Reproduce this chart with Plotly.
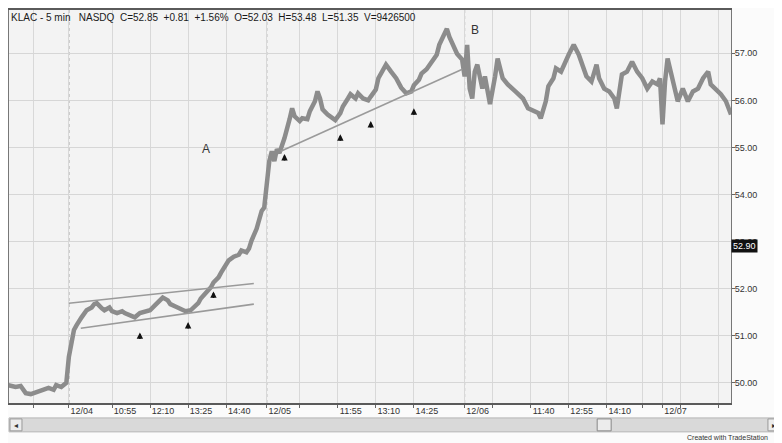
import plotly.graph_objects as go

# ---- data (5-minute bars; bar 78 = 12/04 09:30, 78 bars per session) ----
bars = [54, 57, 59, 61, 63, 66, 68, 70, 72, 73, 75, 77,
        78, 79, 80, 81, 82, 83, 85, 87, 88, 89, 91, 92, 94, 95, 97, 99, 100, 102, 104, 106, 108, 110,
        112, 114, 115, 117, 118, 120, 122, 124, 126, 127, 129, 130, 132, 134, 135, 137, 138, 140, 141,
        143, 145, 146, 148, 149, 150, 152, 153, 154, 155,
        156, 157, 158, 159, 160, 161, 163, 164, 165, 166, 167, 169, 170, 172, 173, 175, 176, 177, 178,
        180, 182, 183, 185, 186, 188, 189, 191, 192, 194, 196, 197, 199, 200, 202, 203, 205, 207, 209,
        211, 213, 214, 216, 217, 219, 221, 223, 224, 226, 227, 228, 230, 231, 233,
        234, 235, 236, 237, 238, 239, 241, 242, 244, 246, 247, 249, 251, 254, 257, 259, 261, 263, 264,
        266, 267, 269, 270, 272, 275, 277, 279, 281, 282, 284, 286, 287, 289, 291, 293, 294, 296, 298,
        300, 302, 304, 306, 308, 310, 311,
        312, 313, 314, 316, 318, 320, 322, 324, 326, 328, 330, 331, 333, 335, 337, 339]
prices = [49.95, 49.91, 49.93, 49.78, 49.76, 49.81, 49.85, 49.89, 49.85, 49.95, 49.91, 50.00,
          50.55, 50.91, 51.12, 51.22, 51.33, 51.39, 51.54, 51.60, 51.67, 51.69, 51.58, 51.54, 51.60,
          51.52, 51.48, 51.52, 51.48, 51.43, 51.39, 51.48, 51.52, 51.54,
          51.65, 51.75, 51.81, 51.75, 51.67, 51.62, 51.58, 51.52, 51.54, 51.60, 51.69, 51.79, 51.90,
          52.03, 52.13, 52.24, 52.34, 52.49, 52.60, 52.68, 52.72, 52.81, 52.77, 52.85, 53.02, 53.27,
          53.48, 53.65, 53.72,
          54.18, 54.71, 54.92, 54.71, 54.96, 54.88, 55.20, 55.45, 55.60, 55.83, 55.66, 55.56, 55.62,
          55.60, 55.77, 55.98, 56.19, 56.04, 55.81, 55.70, 55.60, 55.58, 55.73, 55.87, 56.04, 56.13,
          56.04, 56.15, 56.04, 56.00, 56.08, 56.23, 56.47, 56.66, 56.76, 56.61, 56.47, 56.27,
          56.15, 56.19, 56.32, 56.44, 56.57, 56.66, 56.82, 56.97, 57.18, 57.40, 57.52, 57.35, 57.14,
          56.99, 56.87,
          56.51, 57.18, 56.25, 56.04, 56.61, 56.76, 56.25, 56.51, 55.92, 56.51, 56.89, 56.47, 56.34,
          56.19, 56.04, 55.83, 55.77, 55.73, 55.62,
          55.98, 56.30, 56.47, 56.68, 56.61, 56.97, 57.18, 56.97, 56.68, 56.51, 56.40, 56.76, 56.47,
          56.25, 56.19, 56.04, 55.83, 56.55, 56.61,
          56.82, 56.61, 56.47, 56.25, 56.40, 56.34, 56.47,
          55.49, 56.40, 56.89, 56.40, 55.98, 56.25, 55.98, 56.19, 56.25, 56.47, 56.61, 56.34, 56.25,
          56.13, 55.98, 55.70]

day_start_bars = [78, 156, 234, 312]
tick_bars = [64, 78, 95, 110, 125, 140, 156, 169, 184, 199, 214, 234, 245, 260, 275, 290, 304, 312, 319, 334]
tick_labels = ["", "12/04", "10:55", "12:10", "13:25", "14:40", "12/05", "", "11:55", "13:10", "14:25",
               "12/06", "", "11:40", "12:55", "14:10", "", "12/07", "", ""]
price_ticks = [50, 51, 52, 53, 54, 55, 56, 57]
price_labels = ["50.00", "51.00", "52.00", "53.00", "54.00", "55.00", "56.00", "57.00"]

# trendlines drawn on the chart: (bar0, price0, bar1, price1)
channel_upper = [78.0, 51.69, 150.9, 52.11]
channel_lower = [82.7, 51.16, 150.9, 51.67]
trend_2 = [161.5, 54.92, 233.1, 56.66]

arrow_bars = [106, 125, 135, 163, 185, 197, 214]
arrow_prices = [51.07, 51.29, 51.94, 54.86, 55.28, 55.56, 55.83]

label_text = ["A", "B"]
label_bars = [132, 238]
label_prices = [54.96, 57.50]

last_price = 52.90
header = "KLAC - 5 min   NASDQ  C=52.85  +0.81  +1.56%  O=52.03  H=53.48  L=51.35  V=9426500"

# ---- figure ----
# the page body has an 8px default margin, so the figure is drawn 8px right/down
OFF = 8
W, H = 782 - OFF, 443 - OFF
L, R, T, B = 0, 51, 0, 40
PW, PH = W - L - R, H - T - B
PLOT_X0 = OFF + L          # page px of plot left edge
PLOT_Y1 = OFF + T + PH     # page px of plot bottom edge


def pxx(x):
    return (x - PLOT_X0) / PW


def pxy(y):
    return (PLOT_Y1 - y) / PH


fig = go.Figure()
fig.add_trace(go.Scatter(x=bars, y=prices, mode="lines",
                         line=dict(color="#8c8c8c", width=4.5), hoverinfo="skip", showlegend=False))

shapes = []
for d in day_start_bars:
    shapes.append(dict(type="line", xref="x", yref="paper", x0=d, x1=d, y0=0, y1=1,
                       line=dict(color="#8a8a8a", width=1, dash="dot"), layer="below"))
for ln in (channel_upper, channel_lower, trend_2):
    shapes.append(dict(type="line", xref="x", yref="y", x0=ln[0], y0=ln[1], x1=ln[2], y1=ln[3],
                       line=dict(color="#9a9a9a", width=1.6)))

# scrollbar decoration under the chart
shapes.append(dict(type="rect", xref="paper", yref="paper", x0=pxx(8), x1=pxx(782), y0=pxy(432), y1=pxy(418),
                   fillcolor="#d9d9d9", line=dict(color="#b5b5b5", width=1)))
shapes.append(dict(type="rect", xref="paper", yref="paper", x0=pxx(9), x1=pxx(21), y0=pxy(431), y1=pxy(419),
                   fillcolor="#ececec", line=dict(color="#999999", width=1)))
shapes.append(dict(type="rect", xref="paper", yref="paper", x0=pxx(768), x1=pxx(780), y0=pxy(431), y1=pxy(419),
                   fillcolor="#ececec", line=dict(color="#999999", width=1)))
shapes.append(dict(type="rect", xref="paper", yref="paper", x0=pxx(597), x1=pxx(611), y0=pxy(431), y1=pxy(419),
                   fillcolor="#ececec", line=dict(color="#888888", width=1)))

annotations = []
annotations.append(dict(xref="paper", yref="paper", x=pxx(9), y=pxy(9), xanchor="left", yanchor="top",
                        text=header, showarrow=False, borderpad=0,
                        font=dict(family="Liberation Sans, Arial", size=10, color="#1a1a1a")))
for t, bx, py_ in zip(label_text, label_bars, label_prices):
    annotations.append(dict(x=bx, y=py_, text=t, showarrow=False,
                            font=dict(family="Liberation Sans, Arial", size=12, color="#333333")))
for bx, py_ in zip(arrow_bars, arrow_prices):
    annotations.append(dict(x=bx, y=py_, text="", showarrow=True, ax=0, ay=8,
                            arrowhead=2, arrowsize=0.8, arrowwidth=1.6, arrowcolor="#111111"))
annotations.append(dict(xref="paper", yref="y", x=1, y=last_price, xanchor="left", yanchor="middle",
                        text="52.90", showarrow=False, bgcolor="#111111", borderpad=1, xshift=0,
                        font=dict(family="Liberation Sans, Arial", size=9, color="#ffffff")))
annotations.append(dict(xref="paper", yref="paper", x=pxx(15), y=pxy(425), text="◂", showarrow=False,
                        xanchor="center", yanchor="middle", font=dict(size=8, color="#333333")))
annotations.append(dict(xref="paper", yref="paper", x=pxx(774), y=pxy(425), text="▸", showarrow=False,
                        xanchor="center", yanchor="middle", font=dict(size=8, color="#333333")))
annotations.append(dict(xref="paper", yref="paper", x=pxx(686), y=pxy(438), xanchor="left", yanchor="middle",
                        text="Created with TradeStation", showarrow=False, borderpad=0,
                        font=dict(family="Liberation Sans, Arial", size=7, color="#333333")))

fig.update_layout(
    width=W, height=H, margin=dict(l=L, r=R, t=T, b=B, pad=0),
    paper_bgcolor="#fbfbfb", plot_bgcolor="#f3f3f3",
    shapes=shapes, annotations=annotations, showlegend=False,
    xaxis=dict(range=[54.4, 339.0], tickvals=tick_bars, ticktext=tick_labels,
               showgrid=True, gridcolor="#d8d8d8", gridwidth=1, zeroline=False,
               ticks="outside", ticklen=3, tickcolor="#666666", ticklabelshift=13, ticklabelstandoff=-5,
               tickfont=dict(family="Liberation Sans, Arial", size=9, color="#333333"),
               showline=True, linecolor="#5a5a5a", linewidth=1.5, mirror=True),
    yaxis=dict(range=[49.57, 57.92], side="right", tickvals=price_ticks, ticktext=price_labels,
               showgrid=True, gridcolor="#d6d6d6", gridwidth=1, zeroline=False,
               ticks="outside", ticklen=3, tickcolor="#666666", ticklabelstandoff=-2,
               tickfont=dict(family="Liberation Sans, Arial", size=9, color="#333333"),
               showline=True, linecolor="#777777", linewidth=1, mirror=True),
)

fig.write_html("out.html")
